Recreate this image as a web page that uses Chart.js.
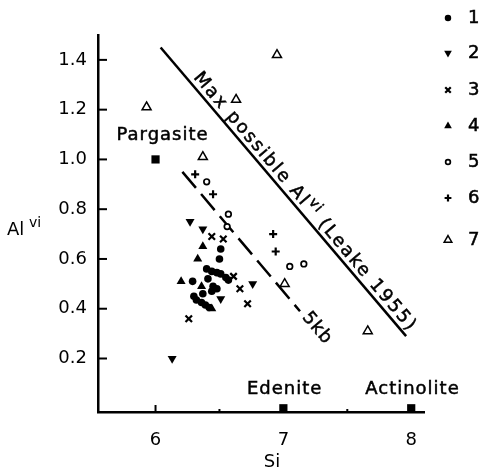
<!DOCTYPE html>
<html>
<head>
<meta charset="utf-8">
<script src="https://cdn.jsdelivr.net/npm/chart.js@4/dist/chart.umd.min.js"></script>
<style>
  html, body { margin: 0; padding: 0; background: #fff; }
  #wrap { width: 484px; height: 470px; }
</style>
</head>
<body>
<div id="wrap"><canvas id="alChart" width="484" height="470"></canvas></div>
<script>
// groups 1-7 (Si, Al vi)
const group1 = [[6.40,0.56],[6.44,0.55],[6.48,0.545],[6.51,0.54],[6.55,0.525],[6.57,0.515],
                [6.29,0.51],[6.41,0.52],[6.45,0.49],[6.44,0.47],[6.37,0.46],[6.30,0.45],
                [6.32,0.435],[6.36,0.425],[6.39,0.415],[6.42,0.405],[6.48,0.48],[6.51,0.64],[6.50,0.60]];
const group2 = [[6.27,0.75],[6.37,0.72],[6.76,0.50],[6.51,0.44],[6.13,0.20]];
const group3 = [[6.44,0.69],[6.53,0.68],[6.61,0.53],[6.66,0.48],[6.72,0.42],[6.26,0.36]];
const group4 = [[6.37,0.65],[6.33,0.60],[6.20,0.51],[6.36,0.49],[6.44,0.40]];
const group5 = [[6.40,0.91],[6.57,0.78],[6.56,0.73],[7.05,0.57],[7.16,0.58]];
const group6 = [[6.31,0.94],[6.45,0.86],[6.92,0.70],[6.94,0.63]];
const group7 = [[5.93,1.21],[6.63,1.24],[6.95,1.42],[6.37,1.01],[7.01,0.50],[7.66,0.31]];

// end members
const endNames = ['Pargasite', 'Edenite', 'Actinolite'];
const endPoints = [[6.0,1.0],[7.0,0],[8.0,0]];
const endLabelAt = [[6.055,1.095],[7.01,0.075],[8.01,0.075]];

// reference lines
const maxLine = [[6.04,1.45],[7.96,0.29]];
const kbLine = [[6.21,0.95],[7.13,0.39]];

const xTicks = [6, 6.5, 7, 7.5, 8];
const yTicks = [0.2, 0.4, 0.6, 0.8, 1.0, 1.2, 1.4];
const legendLabels = ['1', '2', '3', '4', '5', '6', '7'];

const FONT = '"DejaVu Sans", sans-serif';
const pts = arr => arr.map(p => ({x: p[0], y: p[1]}));

// marker styles per group
const markers = [
  {pointStyle: 'circle',   radius: 3.8, rotation: 0,   fill: '#000', borderWidth: 0},
  {pointStyle: 'triangle', radius: 5.2, rotation: 180, fill: '#000', borderWidth: 0},
  {pointStyle: 'crossRot', radius: 4.6, rotation: 0,   fill: '#000', borderWidth: 2.2},
  {pointStyle: 'triangle', radius: 5.2, rotation: 0,   fill: '#000', borderWidth: 0},
  {pointStyle: 'circle',   radius: 2.8, rotation: 0,   fill: '#fff', borderWidth: 1.7},
  {pointStyle: 'cross',    radius: 4.0, rotation: 0,   fill: '#000', borderWidth: 2.2},
  {pointStyle: 'triangle', radius: 5.2, rotation: 0,   fill: '#fff', borderWidth: 1.5}
];
const groups = [group1, group2, group3, group4, group5, group6, group7];

const datasets = groups.map((g, i) => ({
  label: legendLabels[i],
  data: pts(g),
  pointStyle: markers[i].pointStyle,
  pointRadius: markers[i].radius,
  pointRotation: markers[i].rotation,
  pointBackgroundColor: markers[i].fill,
  pointBorderColor: '#000',
  pointBorderWidth: markers[i].borderWidth
}));

datasets.push({
  label: 'end members',
  data: pts(endPoints),
  pointStyle: 'rect',
  pointRadius: 5.8,
  pointBackgroundColor: '#000',
  pointBorderWidth: 0,
  clip: false
});
datasets.push({
  label: 'max',
  data: pts(maxLine),
  showLine: true,
  borderColor: '#000',
  borderWidth: 2.5,
  pointRadius: 0
});
datasets.push({
  label: '5kb',
  data: pts(kbLine),
  showLine: true,
  borderColor: '#000',
  borderWidth: 2.5,
  borderDash: [21, 8],
  pointRadius: 0
});

// text written along a line, starting `start` px past its first point
function textAlong(ctx, p0, p1, start, offset, parts, baseline) {
  const dx = p1.x - p0.x, dy = p1.y - p0.y;
  const len = Math.hypot(dx, dy);
  const ux = dx / len, uy = dy / len;
  ctx.save();
  ctx.translate(p0.x + ux * start + uy * offset, p0.y + uy * start - ux * offset);
  ctx.rotate(Math.atan2(dy, dx));
  ctx.textBaseline = baseline;
  ctx.textAlign = 'left';
  ctx.lineWidth = 0.5;
  let x = 0;
  parts.forEach(p => {
    ctx.font = p.size + 'px ' + FONT;
    ctx.letterSpacing = (p.spacing || 0) + 'px';
    ctx.fillText(p.text, x, -(p.rise || 0));
    ctx.strokeText(p.text, x, -(p.rise || 0));
    x += ctx.measureText(p.text).width;
  });
  ctx.restore();
}

const decor = {
  id: 'decor',
  afterDatasetsDraw(chart) {
    const ctx = chart.ctx;
    const xs = chart.scales.x, ys = chart.scales.y;
    const area = chart.chartArea;
    ctx.save();
    ctx.fillStyle = '#000';
    ctx.strokeStyle = '#000';

    // inner tick marks
    ctx.lineWidth = 2;
    xTicks.forEach(v => {
      const px = xs.getPixelForValue(v);
      const l = Number.isInteger(v) ? 7 : 3;
      ctx.beginPath(); ctx.moveTo(px, area.bottom); ctx.lineTo(px, area.bottom - l); ctx.stroke();
    });
    yTicks.forEach(v => {
      const py = ys.getPixelForValue(v);
      ctx.beginPath(); ctx.moveTo(area.left, py); ctx.lineTo(area.left + 9, py); ctx.stroke();
    });

    // end member names
    ctx.font = '18px ' + FONT;
    ctx.textAlign = 'center';
    ctx.textBaseline = 'middle';
    ctx.letterSpacing = '1px';
    ctx.lineWidth = 0.5;
    endNames.forEach((n, i) => {
      const px = xs.getPixelForValue(endLabelAt[i][0]), py = ys.getPixelForValue(endLabelAt[i][1]);
      ctx.fillText(n, px, py);
      ctx.strokeText(n, px, py);
    });
    ctx.letterSpacing = '0px';

    // line captions
    const m0 = {x: xs.getPixelForValue(maxLine[0][0]), y: ys.getPixelForValue(maxLine[0][1])};
    const m1 = {x: xs.getPixelForValue(maxLine[1][0]), y: ys.getPixelForValue(maxLine[1][1])};
    textAlong(ctx, m0, m1, 44, 5, [
      {text: 'Max possible Al', size: 18, spacing: 2.0},
      {text: 'vi', size: 14, rise: 7, spacing: 1.4},
      {text: ' (Leake 1955)', size: 18, spacing: 2.0}
    ], 'alphabetic');

    const k0 = {x: xs.getPixelForValue(kbLine[0][0]), y: ys.getPixelForValue(kbLine[0][1])};
    const k1 = {x: xs.getPixelForValue(kbLine[1][0]), y: ys.getPixelForValue(kbLine[1][1])};
    const kLen = Math.hypot(k1.x - k0.x, k1.y - k0.y);
    textAlong(ctx, k0, k1, kLen + 6, 2, [{text: '5kb', size: 18, spacing: 1}], 'middle');

    // axis titles
    ctx.textAlign = 'left';
    ctx.textBaseline = 'alphabetic';
    ctx.font = '18px ' + FONT;
    ctx.fillText('Al', 7, 235);
    ctx.font = '14px ' + FONT;
    ctx.fillText('vi', 29, 227);
    ctx.font = '18px ' + FONT;
    ctx.textAlign = 'center';
    ctx.fillText('Si', 272, 467);

    // legend
    legendLabels.forEach((lab, i) => {
      const y = [18, 53, 90, 126, 162, 198, 240][i];
      const mk = markers[i];
      ctx.fillStyle = mk.fill;
      ctx.strokeStyle = '#000';
      ctx.lineWidth = mk.borderWidth;
      Chart.helpers.drawPoint(ctx, {
        pointStyle: mk.pointStyle, radius: mk.radius * 0.85, rotation: mk.rotation, borderWidth: mk.borderWidth
      }, 448, y);
      ctx.fillStyle = '#000';
      ctx.font = '18px ' + FONT;
      ctx.textAlign = 'left';
      ctx.textBaseline = 'middle';
      ctx.lineWidth = 0.5;
      ctx.fillText(lab, 468, y);
      ctx.strokeText(lab, 468, y);
    });
    ctx.restore();
  }
};

new Chart(document.getElementById('alChart'), {
  type: 'scatter',
  data: {datasets},
  options: {
    responsive: false,
    animation: false,
    devicePixelRatio: 1,
    layout: {padding: {top: 35, right: 60, left: 0, bottom: 0}},
    plugins: {legend: {display: false}, tooltip: {enabled: false}},
    scales: {
      x: {
        min: 5.55, max: 8.1,
        afterBuildTicks: s => { s.ticks = xTicks.map(v => ({value: v})); },
        afterFit: s => { s.height = 58; },
        grid: {display: false},
        border: {display: true, color: '#000', width: 2.5},
        ticks: {
          color: '#000', padding: 10, maxRotation: 0, autoSkip: false,
          font: {family: FONT, size: 18},
          callback: v => Number.isInteger(v) ? String(v) : ''
        }
      },
      y: {
        min: -0.015, max: 1.5,
        afterBuildTicks: s => { s.ticks = yTicks.map(v => ({value: v})); },
        afterFit: s => { s.width = 98; },
        grid: {display: false},
        border: {display: true, color: '#000', width: 2.5},
        ticks: {
          color: '#000', padding: 3, autoSkip: false,
          font: {family: FONT, size: 18},
          callback: v => v.toFixed(1)
        }
      }
    }
  },
  plugins: [decor]
});
</script>
</body>
</html>
